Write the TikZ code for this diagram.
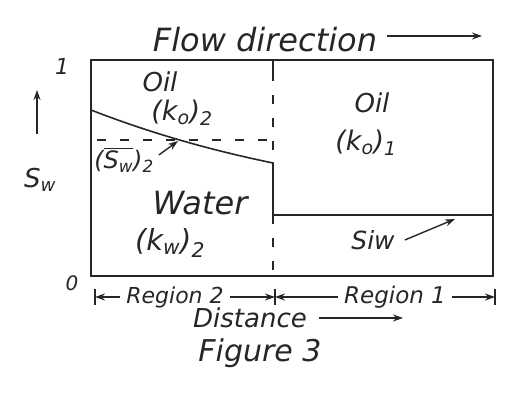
\documentclass[tikz,border=0pt]{standalone}
\usepackage{fontspec}
\setmainfont{DejaVu Sans}
\usetikzlibrary{arrows.meta}
\newcommand\sbs[1]{\textsubscript{#1}}
\newcommand\ovl[1]{\leavevmode\vbox{\hrule height 1.3pt\kern1.5pt\hbox{#1}}}
\newcommand\fsz[1]{\fontsize{#1}{#1}\selectfont\itshape}
\begin{document}
\begin{tikzpicture}[x=1pt,y=-1pt,
  ln/.style={line width=1.6pt, draw=black!85},
  dln/.style={line width=1.4pt, draw=black!85, dash pattern=on 9pt off 14pt},
  arr/.style={line width=1.4pt, draw=black!85, -{Stealth[length=10pt,width=7pt]}},
  lbl/.style={inner sep=0pt, text=black!85}]
\useasboundingbox (0,0) rectangle (510,406);
% frame
\coordinate (TL) at (91,60);
\coordinate (TR) at (493,60);
\coordinate (BR) at (493,276);
\coordinate (BL) at (91,276);
\draw[ln] (TL) -- (TR) -- (BR) -- (BL) -- cycle;
% divider and saturation profile
\coordinate (DT) at (273,60);
\coordinate (DS) at (273,163);
\coordinate (DK) at (273,215);
\coordinate (DB) at (273,276);
\coordinate (SR) at (493,215);
\coordinate (C0) at (91,110);
\draw[ln] (DT) -- ++(0,12);
\draw[dln] (273,72) -- (DS);
\draw[ln] (C0) .. controls (150,133) and (210,150) .. (DS) -- (DK) -- (SR);
\draw[dln] (DK) -- (DB);
\coordinate (H0) at (97,140);
\coordinate (H1) at (273,140);
\draw[dln] (H0) -- (H1);
% axis labels
\node[lbl, font=\fsz{22}] (one) at (62,66) {1};
\node[lbl, font=\fsz{20}] (zero) at (72,283) {0};
\coordinate (A0) at (37,134);
\coordinate (A1) at (37,90);
\draw[arr] (A0) -- (A1);
\node[lbl, font=\fsz{26}] (sw) at (40,180) {S\sbs{w}};
% title
\node[lbl, font=\fsz{32}] (flow) at (265,40) {Flow direction};
\coordinate (F1) at (482,36);
\draw[arr] (flow.east) ++(10,-4) coordinate (F0) -- (F1);
% region 2 labels
\node[lbl, font=\fsz{26}] (oil2) at (160,82) {Oil};
\node[lbl, font=\fsz{27}] (ko2) at (182,113) {(k\sbs{o})\sbs{2}};
\node[lbl, font=\fsz{24}] (swb) at (124,160) {(\ovl{S\sbs{w}})\sbs{2}};
\coordinate (P1) at (178,141);
\draw[arr] (swb.east) ++(5,-5) coordinate (P0) -- (P1);
\node[lbl, font=\fsz{32}] (water) at (200,203) {Water};
\node[lbl, font=\fsz{29}] (kw2) at (170,243) {(k\sbs{w})\sbs{2}};
% region 1 labels
\node[lbl, font=\fsz{26}] (oil1) at (372,103) {Oil};
\node[lbl, font=\fsz{27}] (ko1) at (366,143) {(k\sbs{o})\sbs{1}};
\node[lbl, font=\fsz{25}] (siw) at (373,240) {Siw};
\coordinate (Q1) at (455,219);
\draw[arr] (siw.east) ++(10,0) coordinate (Q0) -- (Q1);
% bottom dimension line
\coordinate (b1) at (95,297);
\coordinate (b2) at (275,297);
\coordinate (b3) at (495,297);
\draw[ln] (95,289) -- (95,305);
\draw[ln] (275,289) -- (275,305);
\draw[ln] (495,289) -- (495,305);
\node[lbl, font=\fsz{22}] (r2) at (175,297) {Region 2};
\node[lbl, font=\fsz{23}] (r1) at (395,297) {Region 1};
\draw[arr, shorten <=6pt] (r2) -- (b1);
\draw[arr, shorten <=6pt] (r2) -- (b2);
\draw[arr, shorten <=6pt] (r1) -- (b2);
\draw[arr, shorten <=6pt] (r1) -- (b3);
% distance and caption
\node[lbl, font=\fsz{26}] (dist) at (250,318) {Distance};
\coordinate (D1) at (403,318);
\draw[arr] (dist.east) ++(12,0) coordinate (D0) -- (D1);
\node[lbl, font=\fsz{30}] (fig) at (260,353) {Figure 3};
\end{tikzpicture}
\end{document}
